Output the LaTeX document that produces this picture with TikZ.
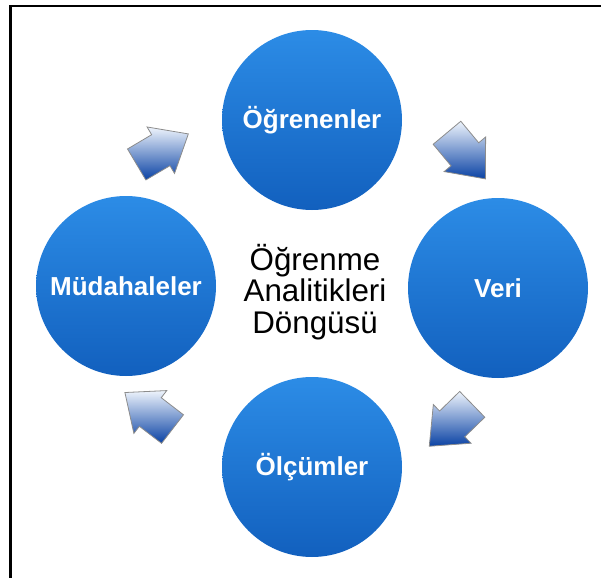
\documentclass[tikz,border=0pt]{standalone}
\usepackage{fontspec}
\setmainfont{Liberation Sans}
\definecolor{circtop}{RGB}{44,140,230}
\definecolor{circbot}{RGB}{18,96,190}
\definecolor{arrlight}{RGB}{238,244,252}
\definecolor{arrmid}{RGB}{62,118,202}
\definecolor{arrdark}{RGB}{10,66,164}
\definecolor{arredge}{RGB}{140,140,140}

% block arrow centred at the shaft/head junction, pointing along angle #2
\newcommand\cyclearrow[2]{%
  \path[arrowbody, shift={(#1)}]
    ({#2}:32) -- ({#2+90}:27) -- ({#2+90}:18) -- ({#2+147.3}:33.3)
    -- ({#2-147.3}:33.3) -- ({#2-90}:18) -- ({#2-90}:27) -- cycle;}

\begin{document}
\begin{tikzpicture}[x=0.75pt,y=-0.75pt,
  stage/.style={circle, minimum size=135pt, inner sep=0pt,
    top color=circtop, bottom color=circbot, text=white,
    font=\bfseries\fontsize{19.5}{22}\selectfont},
  centre/.style={align=center, text=black,
    font=\fontsize{23.5}{23.5}\selectfont},
  arrowbody/.style={draw=arredge, line width=0.6pt, line join=miter,
    top color=arrlight, middle color=arrmid, bottom color=arrdark}]

\useasboundingbox (0,0) rectangle (601,578);
\clip (0,0) rectangle (601,578);

% outer frame (runs off the right and bottom edges)
\draw[line width=2.2pt] (10.5,600) |- (620,6);

% the four stages of the cycle
\node[stage] (learners) at (312,120) {Öğrenenler};
\node[stage] (data)     at (498,288) {Veri};
\node[stage] (measures) at (312,467) {Ölçümler};
\node[stage] (actions)  at (126,286) {Müdahaleler};

% title in the middle
\node[centre] (title) at (315,292) {Öğrenme\\Analitikleri\\Döngüsü};

% arrows between the stages
\coordinate (a1) at (160.8,150.2);
\coordinate (a2) at (464.9,154.3);
\coordinate (a3) at (452.2,423.9);
\coordinate (a4) at (150.3,412.0);
\cyclearrow{a1}{-30.6}
\cyclearrow{a2}{50.2}
\cyclearrow{a3}{135.7}
\cyclearrow{a4}{217.5}

\end{tikzpicture}
\end{document}
